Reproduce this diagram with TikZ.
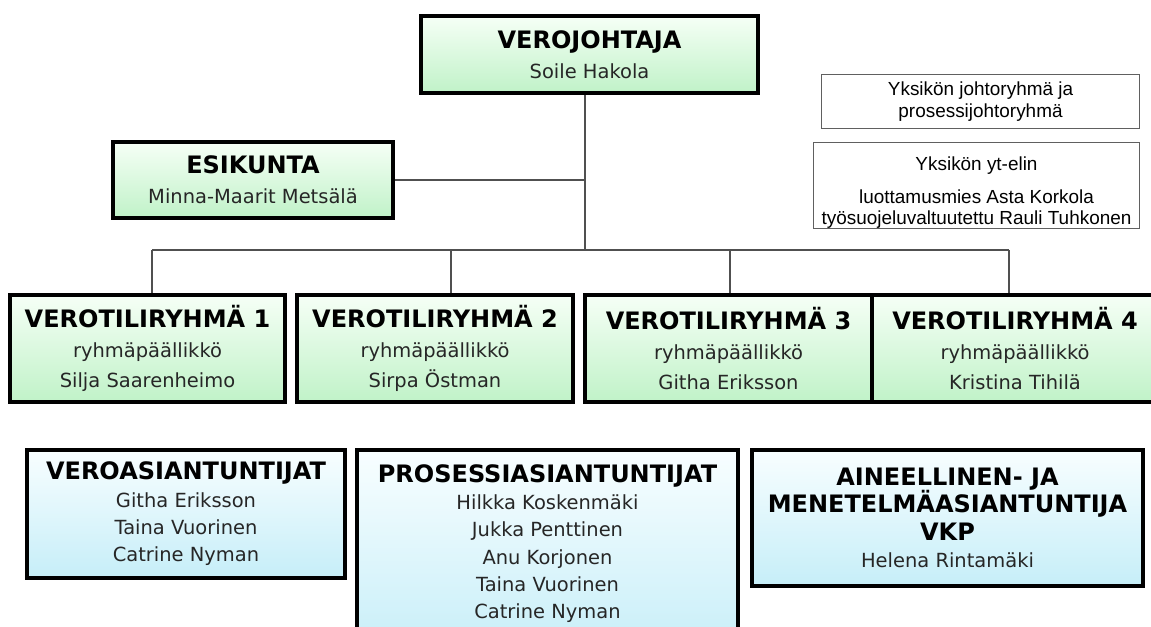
\documentclass[tikz,border=0pt]{standalone}
\usepackage{fontspec}
\setmainfont{DejaVu Sans}
\newfontfamily\arialf{Liberation Sans}
\definecolor{gbot}{HTML}{C0F2C8}
\definecolor{gtop}{HTML}{F6FFF6}
\definecolor{bbot}{HTML}{C6EEF8}
\definecolor{btop}{HTML}{F8FEFF}
\definecolor{txt}{HTML}{262626}
\definecolor{conn}{HTML}{505050}
\tikzset{
  greenbox/.style={draw=black, line width=3pt, top color=gtop, bottom color=gbot,
    align=center, inner sep=0pt, text=txt, font=\fontsize{14.6}{22.5}\selectfont},
  bluebox/.style={greenbox, top color=btop, bottom color=bbot, font=\fontsize{14.6}{20.5}\selectfont},
  plaintext/.style={align=center, inner sep=0pt, text=txt, font=\fontsize{14.6}{20.5}\selectfont},
  infobox/.style={draw=gray!75!black, line width=0.8pt, fill=white, align=center, inner sep=0pt,
    text=black, font=\arialf\fontsize{14.2}{15.5}\selectfont},
  link/.style={draw=conn, line width=0.8pt},
}
\newcommand{\ttl}[1]{{\bfseries\color{black}\fontsize{18}{22.5}\selectfont #1}}
\begin{document}
\begin{tikzpicture}[x=0.75pt,y=-0.75pt]
\useasboundingbox (0,0) rectangle (1151,627);
\fill[white] (0,0) rectangle (1151,627);
\clip (0,0) rectangle (1151,627);

% top
\node[greenbox, minimum width={337*0.75pt}, minimum height={77*0.75pt}] (vj) at (589.5,54.5)
  {\ttl{VEROJOHTAJA}\\Soile Hakola};
\node[greenbox, minimum width={280*0.75pt}, minimum height={76*0.75pt}] (es) at (253,180)
  {\ttl{ESIKUNTA}\\Minna-Maarit Metsälä};

% info boxes
\node[infobox, minimum width={318*0.75pt}, minimum height={54*0.75pt}] (s1) at (980.5,101.5)
  {Yksikön johtoryhmä ja\\[1pt]prosessijohtoryhmä};
\node[infobox, minimum width={326*0.75pt}, minimum height={86*0.75pt}] (s2) at (976.5,185.5)
  {\rule{0pt}{21pt}Yksikön yt-elin\\[9pt]luottamusmies Asta Korkola\\työsuojeluvaltuutettu Rauli Tuhkonen};

% groups
\node[greenbox, minimum width={275*0.75pt}, minimum height={107*0.75pt}] (v1) at (147.5,348.5)
  {\ttl{VEROTILIRYHMÄ 1}\\ryhmäpäällikkö\\Silja Saarenheimo};
\node[greenbox, minimum width={276*0.75pt}, minimum height={107*0.75pt}] (v2) at (435,348.5)
  {\ttl{VEROTILIRYHMÄ 2}\\ryhmäpäällikkö\\Sirpa Östman};
\node[greenbox, minimum width={287*0.75pt}, minimum height={107*0.75pt}] (v3) at (728.5,348.5)
  {\ttl{VEROTILIRYHMÄ 3}\\ryhmäpäällikkö\\Githa Eriksson};
\node[greenbox, minimum width={286*0.75pt}, minimum height={107*0.75pt}] (v4) at (1015,348.5)
  {\ttl{VEROTILIRYHMÄ 4}\\ryhmäpäällikkö\\Kristina Tihilä};

% experts
\node[bluebox, minimum width={318*0.75pt}, minimum height={128*0.75pt}] (b1) at (186,514)
  {\ttl{VEROASIANTUNTIJAT}\\Githa Eriksson\\Taina Vuorinen\\Catrine Nyman};
\node[bluebox, minimum width={381*0.75pt}, minimum height={208*0.75pt}] (b2) at (547.5,554) {};
\node[plaintext, anchor=north] (b2t) at (547.5,464)
  {\ttl{PROSESSIASIANTUNTIJAT}\\Hilkka Koskenmäki\\Jukka Penttinen\\Anu Korjonen\\Taina Vuorinen\\Catrine Nyman};
\node[bluebox, minimum width={391*0.75pt}, minimum height={136*0.75pt}] (b3) at (947.5,518)
  {\ttl{AINEELLINEN- JA}\\\ttl{MENETELMÄASIANTUNTIJA}\\\ttl{VKP}\\Helena Rintamäki};

% connectors
\coordinate (trunk) at (585,250);
\coordinate (d1) at (152,250);
\coordinate (d2) at (451,250);
\coordinate (d3) at (730,250);
\coordinate (d4) at (1009,250);
\draw[link] (trunk |- vj.south) -- (trunk);
\draw[link] (es.east) -- (es.east -| trunk);
\draw[link] (d1) -- (d4);
\draw[link] (d1) -- (d1 |- v1.north);
\draw[link] (d2) -- (d2 |- v2.north);
\draw[link] (d3) -- (d3 |- v3.north);
\draw[link] (d4) -- (d4 |- v4.north);
\end{tikzpicture}
\end{document}
